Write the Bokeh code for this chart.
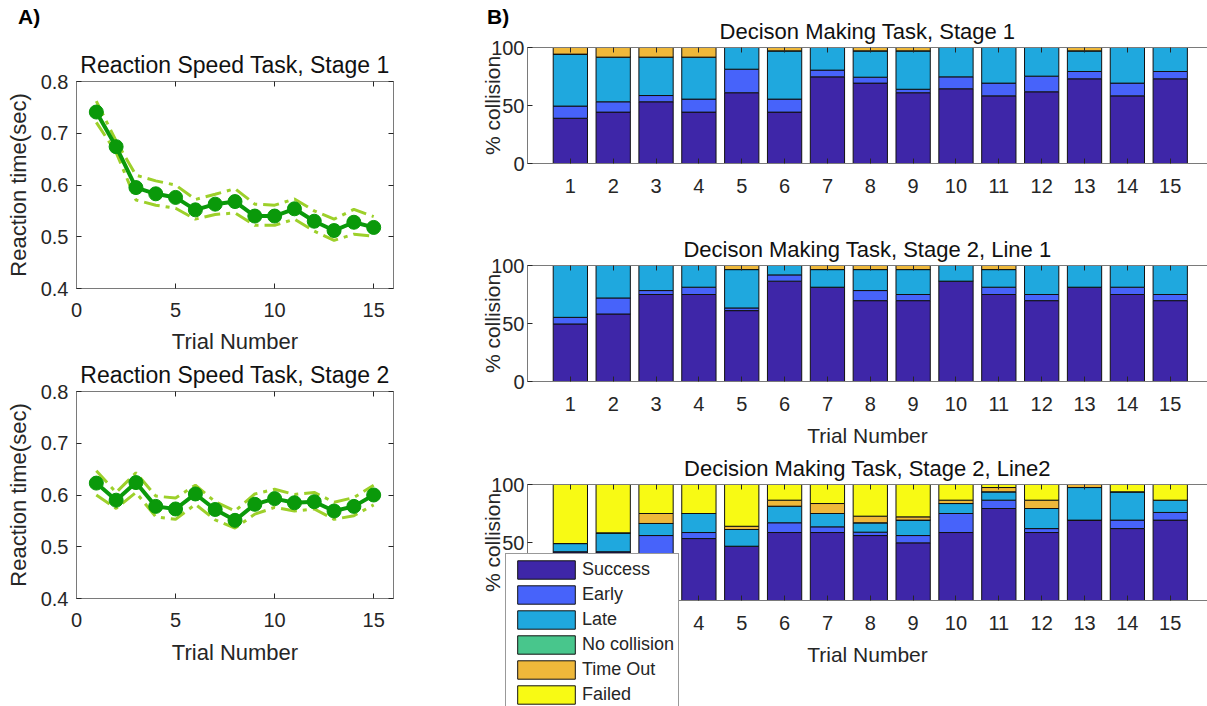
from bokeh.plotting import figure
from bokeh.layouts import row, column
from bokeh.models import (ColumnDataSource, Range1d, FixedTicker, LinearAxis,
                          Legend, LegendItem, Div)
from bokeh.embed import file_html
from bokeh.resources import INLINE

# ---------------- data ----------------
trials = list(range(1, 16))

rs1_mean = [0.741, 0.674, 0.595, 0.583, 0.576, 0.552, 0.563, 0.568, 0.540, 0.540, 0.554, 0.530, 0.512, 0.528, 0.518]
rs1_upper = [0.762, 0.685, 0.619, 0.608, 0.600, 0.572, 0.582, 0.593, 0.563, 0.561, 0.573, 0.550, 0.534, 0.553, 0.539]
rs1_lower = [0.721, 0.663, 0.571, 0.561, 0.555, 0.534, 0.543, 0.546, 0.522, 0.522, 0.534, 0.511, 0.493, 0.505, 0.501]

rs2_mean = [0.623, 0.590, 0.624, 0.578, 0.573, 0.602, 0.572, 0.551, 0.582, 0.593, 0.585, 0.587, 0.569, 0.578, 0.600]
rs2_upper = [0.647, 0.605, 0.643, 0.598, 0.594, 0.619, 0.587, 0.569, 0.602, 0.611, 0.601, 0.605, 0.586, 0.595, 0.619]
rs2_lower = [0.600, 0.574, 0.605, 0.558, 0.553, 0.582, 0.552, 0.536, 0.563, 0.576, 0.569, 0.573, 0.553, 0.560, 0.581]

outcomes = ["Success", "Early", "Late", "No collision", "Time Out", "Failed"]
outcome_keys = ["success", "early", "late", "nocoll", "timeout", "failed"]
outcome_colors = ["#3e26a8", "#4763fa", "#1fa8de", "#48c68c", "#efb83a", "#f8fa14"]

# Decision Making Task, Stage 1 (percent of trials per outcome)
dm1_success = [39.0, 44.3, 53.2, 44.3, 61.0, 44.3, 74.7, 69.3, 61.0, 64.4, 58.3, 61.8, 73.0, 58.3, 73.0]
dm1_early = [10.5, 8.9, 5.4, 11.2, 20.3, 11.2, 5.8, 5.1, 3.0, 10.3, 11.0, 13.5, 6.3, 11.0, 6.3]
dm1_late = [44.8, 38.5, 33.1, 36.2, 18.7, 41.6, 19.5, 22.7, 33.1, 25.3, 30.7, 24.7, 17.8, 30.7, 20.7]
dm1_nocoll = [0] * 15
dm1_timeout = [5.7, 8.3, 8.3, 8.3, 0, 2.9, 0, 2.9, 2.9, 0, 0, 0, 2.9, 0, 0]
dm1_failed = [0] * 15

# Decision Making Task, Stage 2, Line 1
dm2_success = [49.6, 58.2, 75.0, 75.0, 61.1, 86.5, 81.3, 69.7, 69.7, 86.5, 75.0, 69.7, 81.3, 75.0, 69.7]
dm2_early = [5.7, 13.8, 3.4, 6.3, 2.3, 5.4, 0, 8.7, 5.3, 0, 6.3, 5.3, 0, 6.3, 5.3]
dm2_late = [44.7, 28.0, 21.6, 18.7, 33.1, 8.1, 15.2, 18.1, 21.5, 13.5, 15.2, 25.0, 18.7, 18.7, 25.0]
dm2_nocoll = [0] * 15
dm2_timeout = [0, 0, 0, 0, 3.5, 0, 3.5, 3.5, 3.5, 0, 3.5, 0, 0, 0, 0]
dm2_failed = [0] * 15

# Decision Making Task, Stage 2, Line 2
dm3_success = [42.0, 42.0, 40.0, 53.4, 46.8, 58.6, 58.6, 56.0, 49.7, 58.6, 79.3, 58.6, 69.3, 62.0, 69.3]
dm3_early = [0, 0, 16.0, 5.2, 0, 8.4, 4.9, 2.9, 6.3, 16.4, 7.2, 3.4, 0, 7.3, 6.6]
dm3_late = [7.1, 16.3, 10.4, 16.4, 14.4, 14.3, 11.5, 8.1, 13.3, 8.6, 7.2, 17.3, 28.1, 24.4, 10.6]
dm3_nocoll = [0] * 15
dm3_timeout = [0, 0, 8.6, 0, 2.8, 5.2, 8.6, 5.7, 2.8, 2.9, 3.7, 7.2, 2.6, 0, 0]
dm3_failed = [50.9, 41.7, 25.0, 25.0, 36.0, 13.5, 16.4, 27.3, 27.9, 13.5, 2.6, 13.5, 0, 6.3, 13.5]

rt_ticks_x = [0, 5, 10, 15]
rt_ticks_y = [0.4, 0.5, 0.6, 0.7, 0.8]
pct_ticks = [0, 50, 100]

# ---------------- style ----------------
FONT = "Liberation Sans"
TXT = "#262626"
AXC = "#7a7a7a"
MAIN_GREEN = "#0a990a"
BAND_GREEN = "#9dd02a"


def style_axis(ax, size="20px", show_labels=True):
    ax.axis_line_color = AXC
    ax.axis_line_width = 1
    ax.major_tick_line_color = TXT
    ax.major_tick_in = 5
    ax.major_tick_out = 0
    ax.minor_tick_line_color = None
    ax.major_label_text_font = FONT
    ax.major_label_text_color = TXT
    if show_labels:
        ax.major_label_text_font_size = size
    else:
        ax.major_label_text_font_size = "1px"
        ax.major_label_text_alpha = 0
        ax.major_label_standoff = 0
    ax.axis_label_text_font = FONT
    ax.axis_label_text_font_style = "normal"
    ax.axis_label_text_color = TXT


def base_fig(width, height, top, bottom, left, right, xr, yr, title, title_size):
    p = figure(width=width, height=height, x_range=xr, y_range=yr,
               output_backend="svg", toolbar_location=None, title=title,
               min_border_top=top, min_border_bottom=bottom,
               min_border_left=left, min_border_right=right)
    p.xgrid.visible = False
    p.ygrid.visible = False
    p.outline_line_color = None
    p.background_fill_color = "white"
    p.border_fill_color = None
    p.title.align = "center"
    p.title.text_font = FONT
    p.title.text_font_style = "normal"
    p.title.text_font_size = title_size
    p.title.text_color = "#111111"
    p.title.standoff = 8
    return p


def line_fig(title, mean, upper, lower, height, top, bottom, lab_standoff):
    p = base_fig(460, height, top, bottom, 76, 67, Range1d(0, 16), Range1d(0.4, 0.8),
                 title, "23px")
    src = ColumnDataSource(dict(x=trials, m=mean, u=upper, l=lower))
    p.line("x", "u", source=src, line_color=BAND_GREEN, line_width=3, line_dash="16 6 4 6")
    p.line("x", "l", source=src, line_color=BAND_GREEN, line_width=3, line_dash="16 6 4 6")
    p.line("x", "m", source=src, line_color=MAIN_GREEN, line_width=4)
    p.scatter("x", "m", source=src, size=14, fill_color=MAIN_GREEN, line_color=MAIN_GREEN)
    p.xaxis.ticker = FixedTicker(ticks=rt_ticks_x)
    p.yaxis.ticker = FixedTicker(ticks=rt_ticks_y)
    p.xaxis.axis_label = "Trial Number"
    p.yaxis.axis_label = "Reaction time(sec)"
    for ax in p.xaxis + p.yaxis:
        style_axis(ax, "20px")
        ax.axis_label_text_font_size = "22px"
    p.xaxis.major_label_standoff = 14
    p.xaxis.axis_label_standoff = lab_standoff
    p.yaxis.major_label_standoff = 8
    p.yaxis.axis_label_standoff = 7
    top_ax = LinearAxis(ticker=FixedTicker(ticks=rt_ticks_x))
    right_ax = LinearAxis(ticker=FixedTicker(ticks=rt_ticks_y))
    style_axis(top_ax, show_labels=False)
    style_axis(right_ax, show_labels=False)
    p.add_layout(top_ax, "above")
    p.add_layout(right_ax, "right")
    return p


def bar_fig(title, values, height, top, bottom, xlabel):
    p = base_fig(747, height, top, bottom, 67, 0, Range1d(0, 15.87), Range1d(0, 100),
                 title, "22px")
    data = dict(trial=trials)
    for k, v in zip(outcome_keys, values):
        data[k] = v
    src = ColumnDataSource(data)
    p.vbar_stack(outcome_keys, x="trial", width=0.8, source=src,
                 fill_color=outcome_colors, line_color="#111111", line_width=1)
    p.xaxis.ticker = FixedTicker(ticks=trials)
    p.yaxis.ticker = FixedTicker(ticks=pct_ticks)
    p.yaxis.axis_label = "% collision"
    if xlabel:
        p.xaxis.axis_label = "Trial Number"
    for ax in p.xaxis + p.yaxis:
        style_axis(ax, "20px")
        ax.axis_label_text_font_size = "21px"
    p.xaxis.major_label_standoff = 15
    p.xaxis.axis_label_standoff = 10
    p.yaxis.major_label_standoff = 3
    p.yaxis.axis_label_standoff = -16
    top_ax = LinearAxis(ticker=FixedTicker(ticks=trials))
    style_axis(top_ax, show_labels=False)
    p.add_layout(top_ax, "above")
    return p, src


# ---------------- figures ----------------
l1 = line_fig("Reaction Speed Task, Stage 1", rs1_mean, rs1_upper, rs1_lower, 373, 81, 85, 9)
l2 = line_fig("Reaction Speed Task, Stage 2", rs2_mean, rs2_upper, rs2_lower, 353, 38, 108, 10)
l2.margin = (-20, 0, 0, 0)

r1, _ = bar_fig("Decison Making Task, Stage 1",
                [dm1_success, dm1_early, dm1_late, dm1_nocoll, dm1_timeout, dm1_failed],
                215, 47, 52, False)
r2, _ = bar_fig("Decison Making Task, Stage 2, Line 1",
                [dm2_success, dm2_early, dm2_late, dm2_nocoll, dm2_timeout, dm2_failed],
                250, 50, 84, True)
r3, src3 = bar_fig("Decision Making Task, Stage 2, Line2",
                   [dm3_success, dm3_early, dm3_late, dm3_nocoll, dm3_timeout, dm3_failed],
                   261, 39, 106, True)
r3.margin = (-20, 0, 0, 0)

# Legend panel, laid over the lower-left corner of the last bar chart.
# Its frame starts 67 px in (the column aligns the frames of its plots).
lf = figure(width=244, height=153, x_range=Range1d(100, 101), y_range=Range1d(0, 100),
            x_axis_type=None, y_axis_type=None, output_backend="svg",
            toolbar_location=None, min_border_left=67, min_border_right=0,
            min_border_top=0, min_border_bottom=0)
lf.outline_line_color = None
lf.background_fill_color = None
lf.border_fill_color = None
lf.xgrid.visible = False
lf.ygrid.visible = False
legend_rends = lf.vbar_stack(outcome_keys, x="trial", width=0.8, source=src3,
                             fill_color=outcome_colors, line_color="#111111", line_width=1)
lg = Legend(items=[LegendItem(label=lab, renderers=[r]) for lab, r in zip(outcomes, legend_rends)],
            location="top_left")
lg.label_text_font = FONT
lg.label_text_font_size = "18px"
lg.label_text_color = TXT
lg.glyph_width = 72
lg.glyph_height = 23
lg.label_height = 18
lg.spacing = 2
lg.padding = 4
lg.margin = 0
lg.label_standoff = 0
lg.border_line_color = "#333333"
lg.border_line_width = 1
lg.background_fill_color = "white"
lg.background_fill_alpha = 1
lf.add_layout(lg)
lf.margin = (-153, 0, 0, -22)

tag_style = {"font-family": FONT, "font-weight": "bold", "font-size": "21px",
             "color": "#000000", "line-height": "1"}
div_a = Div(text="A)", width=40, height=26, styles=tag_style, margin=(6, 0, -32, 18))
div_b = Div(text="B)", width=40, height=26, styles=tag_style, margin=(6, 0, -32, 27))

layout = row(column(div_a, l1, l2), column(div_b, r1, r2, r3, lf))

open("out.html", "w").write(file_html(layout, INLINE))
